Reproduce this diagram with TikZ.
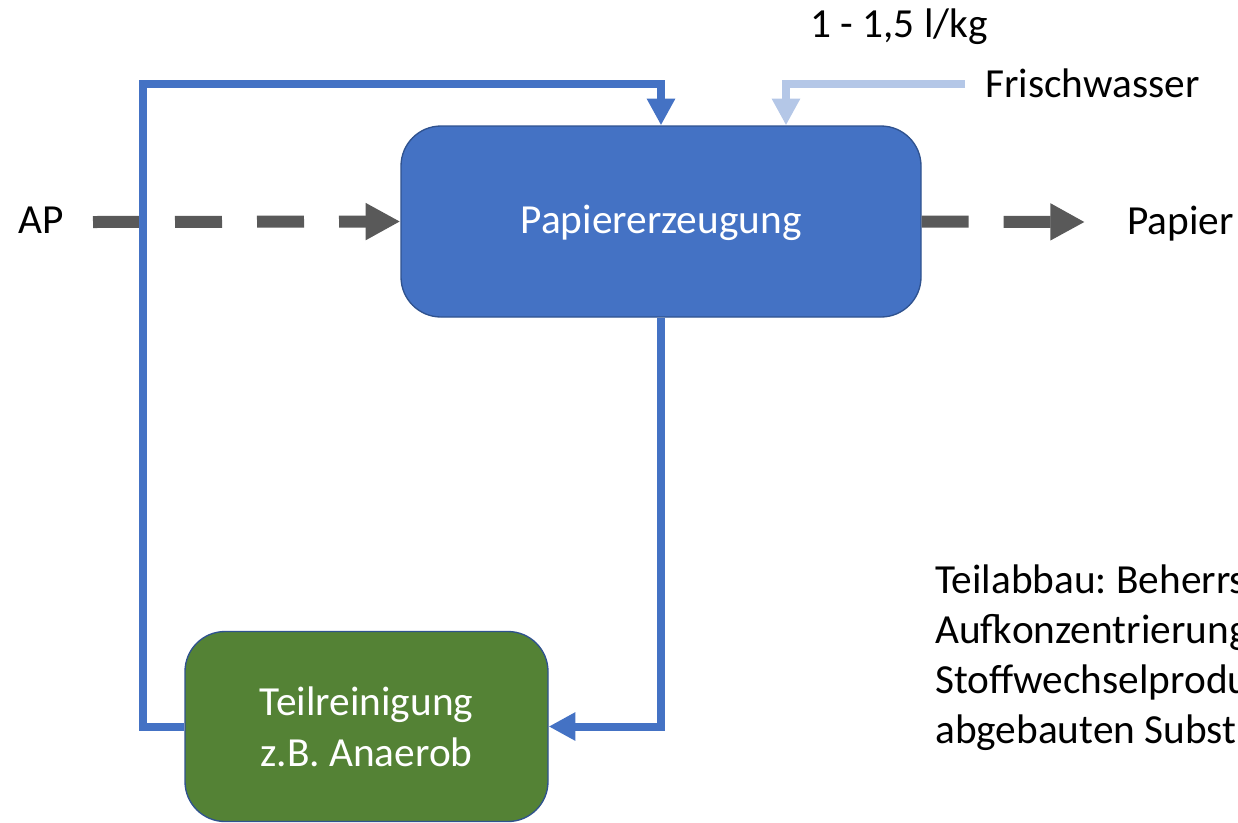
\documentclass[tikz,border=0pt]{standalone}
\usepackage{fontspec}
\setmainfont{Carlito}
\usepackage[svgnames]{xcolor}
\usepackage{tikz}
\usetikzlibrary{arrows.meta}
\definecolor{flowBlue}{HTML}{4472C4}
\definecolor{boxEdge}{HTML}{2F528F}
\definecolor{cleanGreen}{HTML}{548235}
\definecolor{waterBlue}{HTML}{B4C7E7}
\definecolor{streamGrey}{HTML}{595959}
\colorlet{paperBox}{flowBlue}
\colorlet{treatBox}{cleanGreen}
\frenchspacing

\begin{document}
\begin{tikzpicture}[
  x=0.75pt, y=-0.75pt,
  font=\fontsize{31}{37.5}\selectfont,
  every node/.style={inner sep=0pt},
  process/.style={draw=boxEdge, line width=1pt, rounded corners=30pt, text=white, align=center},
  plaintext/.style={anchor=base west},
  recycle/.style={draw=flowBlue, line width=6pt, -{Triangle[length=20pt,width=20pt]}},
  fresh/.style={draw=waterBlue, line width=6pt, -{Triangle[length=20pt,width=20pt]}},
  stream/.style={draw=streamGrey, line width=9pt, dash pattern=on 35.25pt off 26.25pt, -{Triangle[length=26pt,width=26pt]}}
]
\useasboundingbox (0,0) rectangle (1238,822);
\clip (0,0) rectangle (1238,822);

\node[process, fill=paperBox, minimum width=390pt, minimum height=143.25pt, text depth=4pt] (pe) at (661,221.5) {Papiererzeugung};
\node[process, fill=treatBox, minimum width=272.25pt, minimum height=142.5pt] (tr) at (366.5,726.5) {Teilreinigung\\[1pt]z.B. Anaerob};

\node[plaintext] (ap) at (18,233) {AP};
\node[plaintext] (papier) at (1127,234) {Papier};
\node[plaintext] (menge) at (810,37) {1 - 1,5 l/kg};
\node[plaintext] (frisch) at (985,97) {Frischwasser};
\node[anchor=west, align=left] (abbau) at (935,658) {Teilabbau: Beherrs\\Aufkonzentrierung\\Stoffwechselprodu\\abgebauten Subst};

\coordinate (apout) at (93,222);
\coordinate (papin) at (1085,222);
\coordinate (loopcorner) at (143,84);
\coordinate (fw) at (965,84);
\coordinate (fwbend) at (786,84);

\draw[stream] (apout) -- (pe.west);
\draw[stream] (pe.east) -- (papin);
\draw[recycle] (pe.south) |- (tr.east);
\draw[recycle] (tr.west) -| (loopcorner) -| (pe.north);
\draw[fresh] (fw) -- (fwbend) -- (fwbend |- pe.north);
\end{tikzpicture}
\end{document}
